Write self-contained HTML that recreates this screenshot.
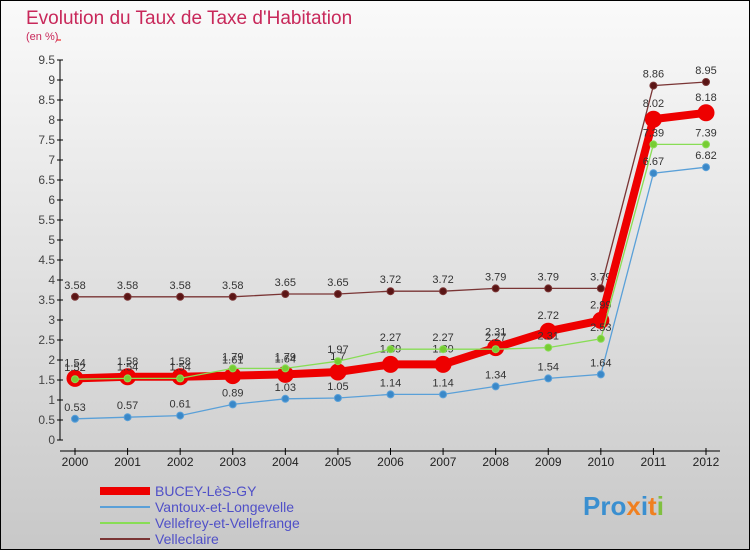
<!DOCTYPE html>
<html><head><meta charset="utf-8"><style>
body{margin:0;width:750px;height:550px;overflow:hidden;font-family:"Liberation Sans",sans-serif}
svg{display:block}
</style></head><body>
<svg id="c" width="750" height="550">
<defs><linearGradient id="bg" x1="0" y1="0" x2="0" y2="1"><stop offset="0" stop-color="#fafafa"/><stop offset="1" stop-color="#c8c8c8"/></linearGradient></defs>
<rect x="0.5" y="0.5" width="749" height="549" fill="url(#bg)" stroke="#000"/>
<text x="26" y="24" font-size="19" fill="#c8285a">Evolution du Taux de Taxe d'Habitation</text>
<text x="26" y="40" font-size="11" fill="#c8285a">(en %)</text>
<g id="axes"></g><g id="series"></g><g id="legend"></g>
<text x="583" y="515" font-size="26" font-weight="bold" fill="#3a8fd0">Pro<tspan fill="#f08020">x</tspan><tspan fill="#3a8fd0">i</tspan><tspan fill="#f08020">t</tspan><tspan fill="#80c040">i</tspan></text>
</svg>
<script>
const years=[2000,2001,2002,2003,2004,2005,2006,2007,2008,2009,2010,2011,2012];
const bucey=[1.54,1.58,1.58,1.61,1.64,1.7,1.89,1.89,2.31,2.72,2.99,8.02,8.18];
const vantoux=[0.53,0.57,0.61,0.89,1.03,1.05,1.14,1.14,1.34,1.54,1.64,6.67,6.82];
const vellefrey=[1.52,1.54,1.54,1.79,1.79,1.97,2.27,2.27,2.27,2.31,2.53,7.39,7.39];
const velleclaire=[3.58,3.58,3.58,3.58,3.65,3.65,3.72,3.72,3.79,3.79,3.79,8.86,8.95];
const yTicks=[0,0.5,1,1.5,2,2.5,3,3.5,4,4.5,5,5.5,6,6.5,7,7.5,8,8.5,9,9.5];
const seriesNames=["BUCEY-LèS-GY","Vantoux-et-Longevelle","Vellefrey-et-Vellefrange","Velleclaire"];
const NS="http://www.w3.org/2000/svg";
function X(i){return 75+i*(706-75)/(years.length-1);}
function Y(v){return 440-v*40;}
function mk(t,a,p){const e=document.createElementNS(NS,t);for(const k in a)e.setAttribute(k,a[k]);p.appendChild(e);return e;}
const ax=document.getElementById('axes');
let l=mk('line',{x1:60,y1:Y(0),x2:60,y2:Y(9.5),stroke:'#000'},ax);


yTicks.forEach(v=>{
 mk('line',{x1:57,y1:Y(v),x2:63,y2:Y(v),stroke:'#000'},ax);
 mk('line',{x1:57,y1:Y(v)-20,x2:61,y2:Y(v)-20,stroke:'#e00'},ax);
 const t=mk('text',{x:55,y:Y(v)+4,'font-size':12,'text-anchor':'end',fill:'#444'},ax);t.textContent=v;
 
 
});
l=mk('line',{x1:60,y1:451,x2:720,y2:451,stroke:'#000'},ax);


years.forEach((y,i)=>{
 mk('line',{x1:X(i),y1:448,x2:X(i),y2:455,stroke:'#000'},ax);
 const t=mk('text',{x:X(i),y:466,'font-size':12,'text-anchor':'middle',fill:'#222'},ax);t.textContent=y;
 
 
});
const sg=document.getElementById('series');
function draw(data,color,w,r,name,mcolor){
 const g=mk('g',{},sg);
 
 
 mk('polyline',{points:data.map((v,i)=>X(i)+','+Y(v)).join(' '),fill:'none',stroke:color,'stroke-width':w},g);
 data.forEach((v,i)=>{
  const c=mk('circle',{cx:X(i),cy:Y(v),r:r,fill:mcolor,stroke:color,'stroke-width':1},g);
  
  
  const t=mk('text',{x:X(i),y:Y(v)-8-(r>5?4:0),'font-size':11,'text-anchor':'middle',fill:'#333'},g);t.textContent=v;
 });
}
draw(velleclaire,'#7a3535',1.3,3.5,'velleclaire-line','#5a1515');
draw(bucey,'#ee0000',8,8,'bucey-line','#ee0000');
draw(vantoux,'#5aa0d8',1.3,3.5,'vantoux-line','#3a88c8');
draw(vellefrey,'#88dd55',1.3,3.5,'vellefrey-line','#77cc33');
const lg=document.getElementById('legend');
const lc=['#ee0000','#5aa0d8','#88dd55','#7a3535'],lw=[8,2,2,2];
seriesNames.forEach((n,i)=>{
 const y=491+i*16;
 const g=mk('g',{},lg);
 
 
 mk('line',{x1:100,y1:y,x2:150,y2:y,stroke:lc[i],'stroke-width':lw[i]},g);
 const t=mk('text',{x:155,y:y+5,'font-size':14,fill:'#5050c8'},g);t.textContent=n;
});
</script>
</body></html>
